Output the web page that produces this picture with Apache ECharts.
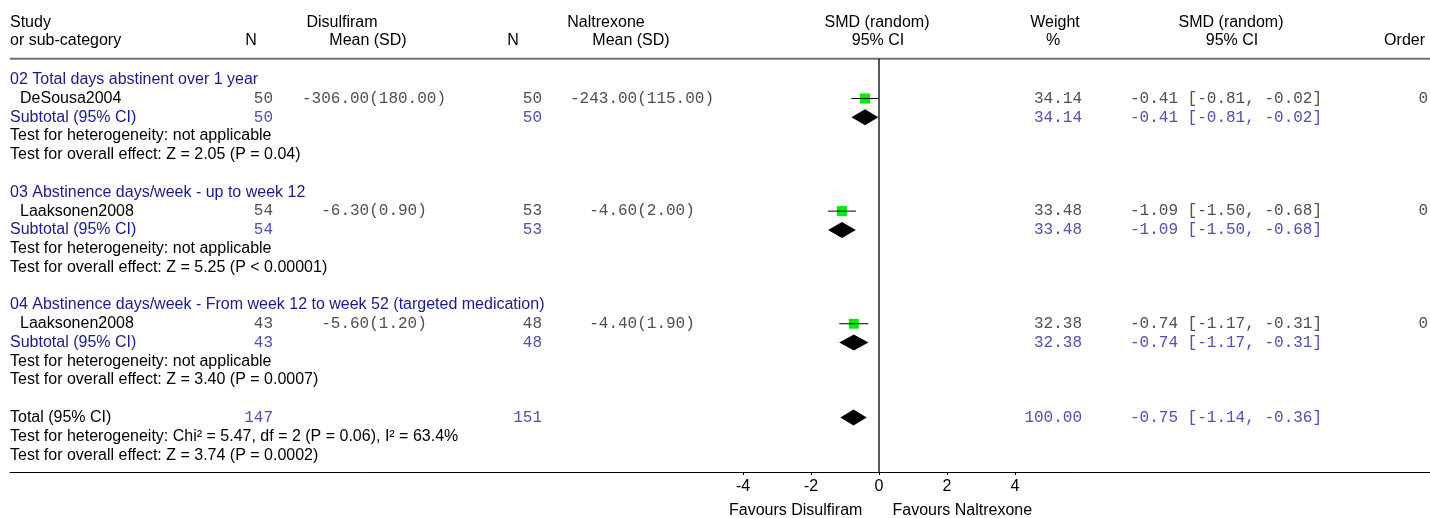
<!DOCTYPE html>
<html>
<head>
<meta charset="utf-8">
<script src="https://cdn.jsdelivr.net/npm/echarts@6/dist/echarts.min.js"></script>
<style>
html,body{margin:0;padding:0;background:#fff;}
#chart{width:1430px;height:518px;}
</style>
</head>
<body>
<div id="chart"></div>
<script>
// ---------------- data ----------------
const groupTitles = [
  '02 Total days abstinent over 1 year',
  '03 Abstinence days/week - up to week 12',
  '04 Abstinence days/week - From week 12 to week 52 (targeted medication)'
];
const studyNames = ['DeSousa2004', 'Laaksonen2008', 'Laaksonen2008'];
const disN = [50, 54, 43];
const disMean = [-306.00, -6.30, -5.60];
const disSD = [180.00, 0.90, 1.20];
const nalN = [50, 53, 48];
const nalMean = [-243.00, -4.60, -4.40];
const nalSD = [115.00, 2.00, 1.90];
const studySMD = [-0.41, -1.09, -0.74];
const studyLow = [-0.81, -1.50, -1.17];
const studyHigh = [-0.02, -0.68, -0.31];
const studyWeight = [34.14, 33.48, 32.38];
const studyOrder = [0, 0, 0];
const subDisN = [50, 54, 43];
const subNalN = [50, 53, 48];
const subSMD = [-0.41, -1.09, -0.74];
const subLow = [-0.81, -1.50, -1.17];
const subHigh = [-0.02, -0.68, -0.31];
const subWeight = [34.14, 33.48, 32.38];
const hetTexts = [
  'Test for heterogeneity: not applicable',
  'Test for heterogeneity: not applicable',
  'Test for heterogeneity: not applicable'
];
const effectTexts = [
  'Test for overall effect: Z = 2.05 (P = 0.04)',
  'Test for overall effect: Z = 5.25 (P < 0.00001)',
  'Test for overall effect: Z = 3.40 (P = 0.0007)'
];
const totalN = [147, 151];
const totalSMD = [-0.75];
const totalLow = [-1.14];
const totalHigh = [-0.36];
const totalWeight = [100.00];
const totalTexts = [
  'Total (95% CI)',
  'Test for heterogeneity: Chi² = 5.47, df = 2 (P = 0.06), I² = 63.4%',
  'Test for overall effect: Z = 3.74 (P = 0.0002)'
];
const axisTicks = [-4, -2, 0, 2, 4];
const favourLabels = ['Favours Disulfiram', 'Favours Naltrexone'];

// ---------------- layout ----------------
const SANS = '16px "Liberation Sans", Arial, Helvetica, sans-serif';
const MONO = '16px "Liberation Mono", "Courier New", monospace';
const NAVY = '#1a1a8c';
const LBLUE = '#5050ae';
const GREY = '#505050';
const COL = { left: 10, indent: 20, n1: 273, m1: 374, n2: 542, m2: 642, w: 1082, ci: 1130, ord: 1428 };
const ROW = { h1: -3.02, h2: -2.07, rule: -1.12, axis: 20.9, fav: 22.98 };

const f2 = v => v.toFixed(2);
const ms = (m, s) => f2(m) + '(' + f2(s) + ')';
const ciTxt = (e, l, h) => f2(e) + ' [' + f2(l) + ', ' + f2(h) + ']';

const texts = [];
function T(x, r, text, align, color, font) { texts.push([x, r, text, align, color, font]); }

// header
T(10, ROW.h1, 'Study', 'left', '#000', SANS);
T(10, ROW.h2, 'or sub-category', 'left', '#000', SANS);
T(251, ROW.h2, 'N', 'center', '#000', SANS);
T(342, ROW.h1, 'Disulfiram', 'center', '#000', SANS);
T(368, ROW.h2, 'Mean (SD)', 'center', '#000', SANS);
T(513, ROW.h2, 'N', 'center', '#000', SANS);
T(606, ROW.h1, 'Naltrexone', 'center', '#000', SANS);
T(631, ROW.h2, 'Mean (SD)', 'center', '#000', SANS);
T(877, ROW.h1, 'SMD (random)', 'center', '#000', SANS);
T(878, ROW.h2, '95% CI', 'center', '#000', SANS);
T(1055, ROW.h1, 'Weight', 'center', '#000', SANS);
T(1053, ROW.h2, '%', 'center', '#000', SANS);
T(1231, ROW.h1, 'SMD (random)', 'center', '#000', SANS);
T(1232, ROW.h2, '95% CI', 'center', '#000', SANS);
T(1425, ROW.h2, 'Order', 'right', '#000', SANS);

const studyRows = [], subRows = [];
groupTitles.forEach((title, g) => {
  const b = g * 6;
  T(COL.left, b, title, 'left', NAVY, SANS);
  T(COL.indent, b + 1, studyNames[g], 'left', '#000', SANS);
  T(COL.n1, b + 1, String(disN[g]), 'right', GREY, MONO);
  T(COL.m1, b + 1, ms(disMean[g], disSD[g]), 'center', GREY, MONO);
  T(COL.n2, b + 1, String(nalN[g]), 'right', GREY, MONO);
  T(COL.m2, b + 1, ms(nalMean[g], nalSD[g]), 'center', GREY, MONO);
  T(COL.w, b + 1, f2(studyWeight[g]), 'right', GREY, MONO);
  T(COL.ci, b + 1, ciTxt(studySMD[g], studyLow[g], studyHigh[g]), 'left', GREY, MONO);
  T(COL.ord, b + 1, String(studyOrder[g]), 'right', GREY, MONO);
  T(COL.left, b + 2, 'Subtotal (95% CI)', 'left', NAVY, SANS);
  T(COL.n1, b + 2, String(subDisN[g]), 'right', LBLUE, MONO);
  T(COL.n2, b + 2, String(subNalN[g]), 'right', LBLUE, MONO);
  T(COL.w, b + 2, f2(subWeight[g]), 'right', LBLUE, MONO);
  T(COL.ci, b + 2, ciTxt(subSMD[g], subLow[g], subHigh[g]), 'left', LBLUE, MONO);
  T(COL.left, b + 3, hetTexts[g], 'left', '#000', SANS);
  T(COL.left, b + 4, effectTexts[g], 'left', '#000', SANS);
  studyRows.push([studySMD[g], b + 1, studyLow[g], studyHigh[g], studyWeight[g]]);
  subRows.push([subSMD[g], b + 2, subLow[g], subHigh[g]]);
});
T(COL.left, 18, totalTexts[0], 'left', '#000', SANS);
T(COL.n1, 18, String(totalN[0]), 'right', LBLUE, MONO);
T(COL.n2, 18, String(totalN[1]), 'right', LBLUE, MONO);
T(COL.w, 18, f2(totalWeight[0]), 'right', LBLUE, MONO);
T(COL.ci, 18, ciTxt(totalSMD[0], totalLow[0], totalHigh[0]), 'left', LBLUE, MONO);
T(COL.left, 19, totalTexts[1], 'left', '#000', SANS);
T(COL.left, 20, totalTexts[2], 'left', '#000', SANS);
const diamondRows = subRows.concat([[totalSMD[0], 18, totalLow[0], totalHigh[0]]]);

const favourItems = [[-2.45, ROW.fav, favourLabels[0]], [2.45, ROW.fav, favourLabels[1]]];

function textItem(params, api) {
  const d = texts[params.dataIndex];
  const p = api.coord([d[0], d[1]]);
  return { type: 'text', silent: true,
    style: { text: d[2], x: p[0], y: p[1], align: d[3], verticalAlign: 'middle', fill: d[4], font: d[5] } };
}

const chart = echarts.init(document.getElementById('chart'), null, { renderer: 'canvas' });
chart.setOption({
  animation: false,
  backgroundColor: '#fff',
  grid: { left: 10, right: 0, top: 0, bottom: 46, containLabel: false },
  xAxis: [
    { type: 'value', min: -869 / 34, max: 551 / 34, position: 'bottom',
      axisLine: { show: true, onZero: false, lineStyle: { color: '#000', width: 1 } },
      axisTick: { show: true, length: 3, customValues: axisTicks, lineStyle: { color: '#000' } },
      axisLabel: { show: true, customValues: axisTicks, margin: 7, color: '#000', fontSize: 16,
        fontFamily: '"Liberation Sans", Arial, sans-serif' },
      splitLine: { show: false } },
    { type: 'value', min: 10, max: 1430, show: false }
  ],
  yAxis: [{ type: 'value', inverse: true, min: -4.25, max: ROW.axis, show: false }],
  series: [
    { type: 'line', xAxisIndex: 1, silent: true, symbol: 'none',
      lineStyle: { color: '#707070', width: 2 },
      data: [[10, ROW.rule], [1430, ROW.rule]] },
    { type: 'line', xAxisIndex: 0, silent: true, symbol: 'none',
      lineStyle: { color: '#000', width: 1.3 },
      data: [[0, ROW.rule], [0, ROW.axis]] },
    { type: 'custom', xAxisIndex: 0, silent: true, data: studyRows,
      renderItem: (params, api) => {
        const r = api.value(1);
        const c = api.coord([api.value(0), r]);
        const lo = api.coord([api.value(2), r]);
        const hi = api.coord([api.value(3), r]);
        const half = 5 * Math.sqrt(api.value(4) / 33.3);
        return { type: 'group', children: [
          { type: 'rect', shape: { x: c[0] - half, y: c[1] - half, width: 2 * half, height: 2 * half },
            style: { fill: '#00ee00' } },
          { type: 'line', shape: { x1: lo[0], y1: c[1], x2: hi[0], y2: c[1] },
            style: { stroke: '#000', lineWidth: 1 } }
        ] };
      } },
    { type: 'custom', xAxisIndex: 0, silent: true, data: diamondRows,
      renderItem: (params, api) => {
        const r = api.value(1);
        const c = api.coord([api.value(0), r]);
        const lo = api.coord([api.value(2), r]);
        const hi = api.coord([api.value(3), r]);
        return { type: 'polygon',
          shape: { points: [[lo[0], c[1]], [c[0], c[1] - 8], [hi[0], c[1]], [c[0], c[1] + 8]] },
          style: { fill: '#000' } };
      } },
    { type: 'custom', xAxisIndex: 1, silent: true, clip: false,
      data: texts.map(t => [t[0], t[1]]), renderItem: textItem },
    { type: 'custom', xAxisIndex: 0, silent: true, clip: false, data: favourItems,
      renderItem: (params, api) => {
        const p = api.coord([api.value(0), api.value(1)]);
        return { type: 'text', silent: true,
          style: { text: favourItems[params.dataIndex][2], x: p[0], y: p[1], align: 'center',
            verticalAlign: 'middle', fill: '#000', font: SANS } };
      } }
  ]
});
</script>
</body>
</html>
